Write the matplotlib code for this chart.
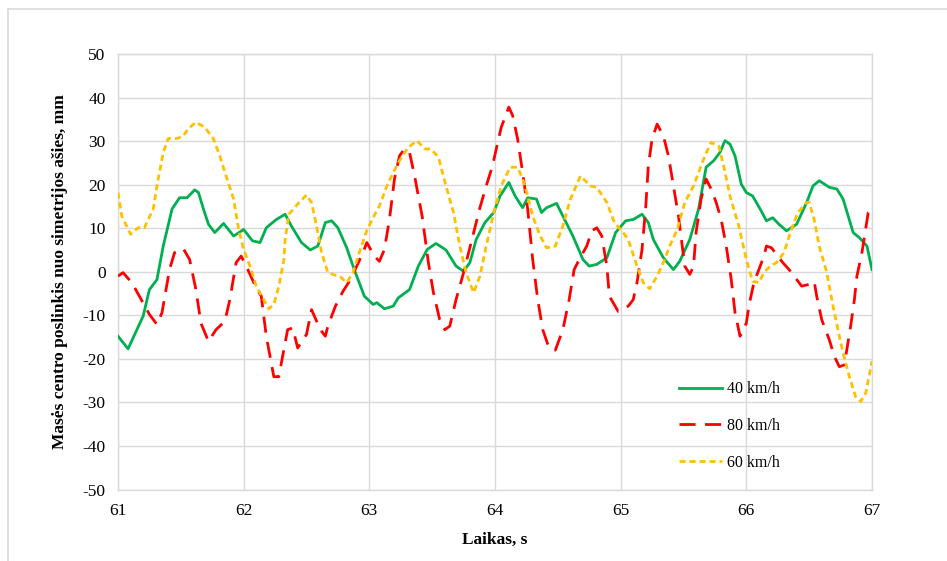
import matplotlib
matplotlib.use("Agg")
import matplotlib.pyplot as plt
from matplotlib.lines import Line2D

# ---- data ----
green_t = [61.00, 61.08, 61.20, 61.25, 61.31, 61.36, 61.43, 61.49, 61.55, 61.61, 61.64, 61.68, 61.72,
           61.77, 61.84, 61.92, 62.00, 62.07, 62.13, 62.18, 62.26, 62.33, 62.38, 62.46, 62.53, 62.59,
           62.65, 62.70, 62.75, 62.82, 62.88, 62.93, 62.96, 63.03, 63.06, 63.12, 63.19, 63.23, 63.32,
           63.39, 63.46, 63.53, 63.61, 63.69, 63.75, 63.80, 63.85, 63.92, 63.99, 64.04, 64.11, 64.16,
           64.22, 64.26, 64.33, 64.37, 64.41, 64.49, 64.54, 64.62, 64.70, 64.75, 64.81, 64.89, 64.96,
           65.04, 65.10, 65.17, 65.22, 65.26, 65.34, 65.42, 65.47, 65.55, 65.62, 65.68, 65.74, 65.79,
           65.83, 65.87, 65.91, 65.96, 66.00, 66.05, 66.11, 66.16, 66.21, 66.26, 66.32, 66.40, 66.48,
           66.53, 66.58, 66.66, 66.72, 66.77, 66.85, 66.90, 66.96, 67.00]
green_v = [-14.8, -17.7, -10.2, -4.1, -1.8, 5.9, 14.4, 17.0, 17.0, 18.8, 18.2, 14.4, 10.9,
           9.0, 11.1, 8.2, 9.7, 7.1, 6.7, 10.1, 12.0, 13.2, 10.5, 6.7, 5.0, 5.9,
           11.3, 11.7, 10.1, 5.5, 0.5, -3.3, -5.6, -7.5, -7.1, -8.5, -7.9, -6.0, -4.1,
           1.3, 5.1, 6.5, 5.0, 1.3, 0.1, 2.1, 7.4, 11.3, 13.6, 17.4, 20.5, 17.4,
           14.7, 17.0, 16.7, 13.6, 14.7, 15.7, 12.8, 8.2, 2.8, 1.3, 1.7, 3.2, 9.0,
           11.7, 12.0, 13.2, 11.3, 7.4, 3.2, 0.5, 2.4, 7.4, 14.4, 24.0, 25.5, 27.4,
           30.1, 29.3, 26.6, 20.1, 18.2, 17.4, 14.4, 11.7, 12.4, 10.9, 9.4, 10.9, 15.9,
           19.7, 20.9, 19.4, 19.0, 16.7, 9.0, 7.8, 5.9, 0.5]

red_t = [61.00, 61.04, 61.11, 61.17, 61.25, 61.31, 61.35, 61.41, 61.45, 61.52, 61.57, 61.62, 61.66,
         61.72, 61.78, 61.85, 61.89, 61.94, 61.98, 62.02, 62.10, 62.14, 62.18, 62.24, 62.28, 62.31,
         62.35, 62.39, 62.43, 62.50, 62.54, 62.61, 62.65, 62.67, 62.73, 62.79, 62.85, 62.90, 62.95,
         62.98, 63.04, 63.08, 63.12, 63.16, 63.20, 63.24, 63.28, 63.32, 63.36, 63.42, 63.47, 63.51,
         63.56, 63.60, 63.64, 63.69, 63.75, 63.81, 63.88, 63.93, 63.98, 64.01, 64.05, 64.11, 64.14,
         64.18, 64.22, 64.26, 64.30, 64.34, 64.38, 64.43, 64.48, 64.54, 64.59, 64.63, 64.67, 64.73,
         64.77, 64.81, 64.85, 64.89, 64.91, 64.98, 65.06, 65.10, 65.13, 65.17, 65.20, 65.22, 65.25,
         65.29, 65.34, 65.38, 65.42, 65.46, 65.49, 65.51, 65.55, 65.58, 65.60, 65.64, 65.68, 65.72,
         65.76, 65.80, 65.84, 65.88, 65.91, 65.95, 66.00, 66.02, 66.06, 66.10, 66.14, 66.16, 66.20,
         66.25, 66.29, 66.34, 66.37, 66.44, 66.50, 66.54, 66.56, 66.60, 66.66, 66.70, 66.74, 66.78,
         66.80, 66.83, 66.86, 66.88, 66.92, 66.97, 67.00]
red_v = [-1.0, -0.2, -2.5, -5.6, -9.8, -12.1, -9.4, 0.5, 4.4, 5.3, 2.8, -4.1, -11.8,
         -16.0, -13.3, -11.4, -6.4, 2.1, 3.6, 1.3, -3.7, -5.6, -14.8, -24.1, -24.1, -19.4,
         -13.3, -12.9, -17.5, -14.4, -8.7, -13.3, -14.8, -12.5, -7.9, -4.5, -1.8, 1.3, 4.4,
         6.7, 3.6, 2.4, 5.1, 12.0, 21.3, 26.6, 28.2, 27.4, 22.0, 12.8, 2.1, -4.8,
         -11.0, -13.3, -12.5, -6.4, -0.2, 6.7, 14.7, 19.7, 24.3, 28.2, 33.2, 37.8, 35.9,
         30.5, 22.8, 14.4, 2.8, -6.4, -13.3, -17.5, -18.0, -13.3, -6.4, 0.5, 2.8, 5.9,
         9.4, 10.1, 8.2, 1.3, -5.6, -9.1, -7.9, -6.4, -2.5, 5.1, 15.1, 24.3, 30.5,
         33.9, 31.2, 26.6, 19.7, 12.8, 5.9, 1.3, -0.6, 1.3, 9.0, 16.7, 21.3, 19.0,
         15.9, 12.0, 5.9, -1.8, -9.4, -14.8, -11.8, -7.9, -2.5, 0.5, 3.6, 5.9, 5.5,
         3.6, 2.1, 0.5, -0.6, -3.3, -2.9, -2.2, -5.6, -11.0, -15.6, -19.4, -21.8, -21.4,
         -17.9, -12.5, -6.4, -1.0, 4.4, 13.6, 14.4]

yellow_t = [61.00, 61.03, 61.10, 61.16, 61.21, 61.28, 61.32, 61.36, 61.40, 61.47, 61.52, 61.56, 61.62,
            61.69, 61.76, 61.81, 61.86, 61.92, 61.96, 62.00, 62.05, 62.10, 62.16, 62.20, 62.24, 62.28,
            62.32, 62.33, 62.36, 62.44, 62.50, 62.54, 62.58, 62.62, 62.67, 62.77, 62.82, 62.87, 62.92,
            62.98, 63.03, 63.08, 63.14, 63.19, 63.24, 63.31, 63.38, 63.44, 63.49, 63.55, 63.61, 63.67,
            63.72, 63.77, 63.83, 63.88, 63.93, 63.99, 64.05, 64.12, 64.18, 64.22, 64.26, 64.30, 64.36,
            64.41, 64.48, 64.54, 64.60, 64.68, 64.76, 64.81, 64.89, 64.95, 65.02, 65.06, 65.13, 65.18,
            65.23, 65.29, 65.35, 65.39, 65.45, 65.51, 65.58, 65.63, 65.67, 65.72, 65.78, 65.82, 65.87,
            65.94, 66.00, 66.05, 66.10, 66.14, 66.19, 66.24, 66.30, 66.35, 66.41, 66.48, 66.50, 66.54,
            66.58, 66.64, 66.69, 66.74, 66.77, 66.82, 66.87, 66.91, 66.95, 67.00]
yellow_v = [18.2, 12.8, 8.6, 10.1, 10.1, 14.4, 21.3, 27.4, 30.6, 30.6, 31.2, 32.9, 34.3,
            33.2, 30.5, 26.6, 22.0, 16.7, 9.7, 5.1, 1.3, -3.3, -6.4, -8.5, -7.5, -3.3,
            2.8, 7.4, 13.2, 15.9, 17.6, 15.9, 10.5, 4.4, -0.2, -1.2, -2.5, -0.2, 4.4,
            9.5, 12.4, 15.1, 19.7, 22.8, 25.5, 28.6, 30.1, 28.2, 28.2, 26.3, 19.7, 13.6,
            5.9, -0.2, -4.8, -1.0, 5.9, 13.6, 19.7, 24.0, 24.0, 21.3, 17.4, 12.8, 8.2,
            5.5, 5.9, 10.5, 16.7, 22.0, 19.7, 19.4, 15.9, 11.3, 9.0, 7.4, 1.3, -2.5,
            -3.9, -1.0, 2.8, 5.9, 9.7, 15.9, 19.7, 23.6, 26.6, 29.7, 28.9, 24.3, 17.4,
            10.5, 2.8, -2.2, -2.5, -0.2, 1.3, 2.1, 4.4, 9.0, 13.6, 15.9, 16.0, 12.0,
            5.9, -0.2, -7.9, -14.8, -18.7, -24.1, -28.7, -29.8, -27.9, -20.5]

series_labels = ["40 km/h", "80 km/h", "60 km/h"]
x_ticks = [61, 62, 63, 64, 65, 66, 67]
y_ticks = [-50, -40, -30, -20, -10, 0, 10, 20, 30, 40, 50]
x_title = "Laikas, s"
y_title = "Masės centro poslinkis nuo simetrijos ašies, mm"

# ---- drawing ----
serif = ["Liberation Serif", "DejaVu Serif"]
plt.rcParams["font.family"] = serif

W, H = 947, 561
fig = plt.figure(figsize=(W / 100, H / 100), dpi=100)
fig.patch.set_facecolor("white")

# outer chart frame (only left and top edges visible)
fig.add_artist(Line2D([8 / W, 8 / W], [0, 1 - 9 / H], transform=fig.transFigure,
                      color="#D9D9D9", lw=1.2))
fig.add_artist(Line2D([8 / W, 1], [1 - 9 / H, 1 - 9 / H], transform=fig.transFigure,
                      color="#D9D9D9", lw=1.2))

left, right, top, bottom = 118, 872, 54, 489.5
ax = fig.add_axes([left / W, 1 - bottom / H, (right - left) / W, (bottom - top) / H])

lw = 2.0
ax.plot(green_t, green_v, color="#00B050", lw=lw, label=series_labels[0],
        solid_joinstyle="round", zorder=3)
ax.plot(red_t, red_v, color="#FF0000", lw=lw, label=series_labels[1],
        dashes=(5.8, 3.4), dash_capstyle="butt", zorder=3)
ax.plot(yellow_t, yellow_v, color="#FFC000", lw=lw, label=series_labels[2],
        dashes=(2.2, 1.4), dash_capstyle="butt", zorder=3)

ax.set_xlim(61, 67)
ax.set_ylim(-50, 50)
ax.set_xticks(x_ticks)
ax.set_yticks(y_ticks)
ax.set_xticklabels([str(v) for v in x_ticks])
ax.set_yticklabels([str(v) for v in y_ticks])
ax.grid(True, color="#D9D9D9", lw=1.0, zorder=0)
ax.set_axisbelow(True)
for s in ax.spines.values():
    s.set_color("#D9D9D9")
    s.set_linewidth(1.0)
ax.tick_params(axis="both", length=0, labelsize=12.5, colors="black")
ax.tick_params(axis="y", pad=9)
ax.tick_params(axis="x", pad=10)

ax.set_xlabel(x_title, fontsize=12.5, fontweight="bold", labelpad=9)
ax.set_ylabel(y_title, fontsize=12.5, fontweight="bold", labelpad=10)

leg = ax.legend(loc="lower left", bbox_to_anchor=(0.725, 0.01), frameon=False,
                fontsize=11.5, handlelength=2.7, labelspacing=1.3, handletextpad=0.3)

fig.savefig("out.png", dpi=100)
